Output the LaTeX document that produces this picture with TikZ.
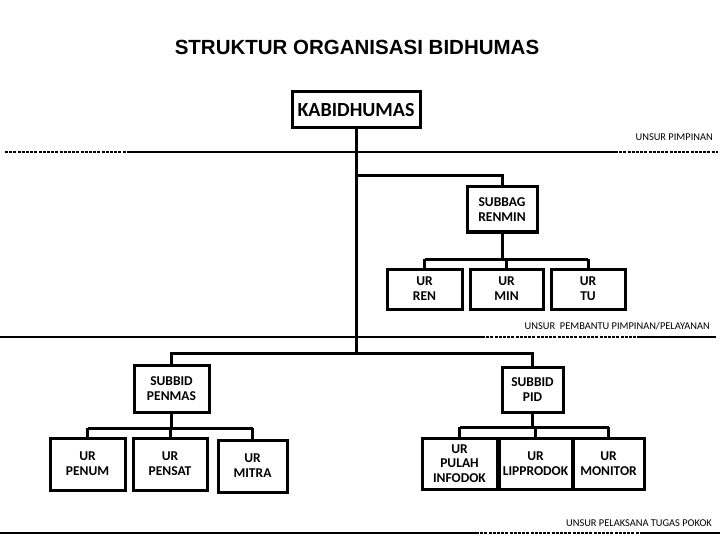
\documentclass[tikz,border=0pt]{standalone}
\usepackage{fontspec}
\newfontfamily\boxfont{Carlito}
\newfontfamily\titlefont{Liberation Sans}
\usetikzlibrary{positioning}

\begin{document}
\begin{tikzpicture}[x=1pt,y=-1pt]

  % --- styles ---
  \tikzset{
    % unit boxes: thick black frame, bold text
    unitbox/.style={
      draw=black,
      line width=3pt,
      fill=white,
      font=\boxfont\bfseries\fontsize{13.5}{14.8}\selectfont,
      align=center,
      inner sep=0pt
    },
    % connectors between boxes
    link/.style={line width=3pt},
    % divider lines between levels
    divsolid/.style={line width=2.2pt},
    divdash/.style={line width=1.4pt, dash pattern=on 3pt off 1.2pt},
    divlabel/.style={anchor=east, inner sep=0pt, font=\boxfont\fontsize{10.4}{12}\selectfont}
  }

  \useasboundingbox (0,0) rectangle (720,540);

  % --- title ---
  \node[font=\titlefont\bfseries\fontsize{20.5}{24}\selectfont] (title) at (357,47) {STRUKTUR ORGANISASI BIDHUMAS};

  % --- dividers ---
  \draw[divdash] (5,152) -- (130,152);
  \draw[divsolid] (130,152) -- (615,152);
  \draw[divdash] (615,152) -- (718,152);
  \node[divlabel] (lblpimpinan) at (713,137) {UNSUR PIMPINAN};

  \draw[divsolid] (0,337) -- (482,337);
  \draw[divdash] (482,337) -- (640,337);
  \draw[divsolid] (640,337) -- (716,337);
  \node[divlabel] (lblpembantu) at (710,326) {UNSUR\ \ PEMBANTU PIMPINAN/PELAYANAN};

  \draw[divsolid] (0,533) -- (476,533);
  \draw[divdash] (476,533) -- (640,533);
  \draw[divsolid] (640,533) -- (720,533);
  \node[divlabel] (lblpelaksana) at (712,523) {UNSUR PELAKSANA TUGAS POKOK};

  % --- pimpinan ---
  \node[unitbox, minimum width=128, minimum height=36, font=\boxfont\bfseries\fontsize{20}{22}\selectfont] (kabid) at (356,110) {KABIDHUMAS};

  % --- subbag renmin and its urusan ---
  \node[unitbox, minimum width=70, minimum height=45] (renmin) at (502,209.5) {SUBBAG\\RENMIN};
  \node[unitbox, minimum width=75, minimum height=40] (ren) at (424.5,289) {UR\\REN};
  \node[unitbox, minimum width=73, minimum height=40, right=5pt of ren] (min) {UR\\MIN};
  \node[unitbox, minimum width=74, minimum height=40, right=5pt of min] (tu) {UR\\TU};

  % --- subbid penmas ---
  \node[unitbox, minimum width=75, minimum height=47] (penmas) at (171.5,388.5) {SUBBID\\PENMAS};
  \node[unitbox, minimum width=75, minimum height=52] (penum) at (87.5,464) {UR\\PENUM};
  \node[unitbox, minimum width=74, minimum height=52] (pensat) at (170,464) {UR\\PENSAT};
  \node[unitbox, minimum width=69, minimum height=52] (mitra) at (252.5,466) {UR\\MITRA};

  % --- subbid pid ---
  \node[unitbox, minimum width=61, minimum height=45] (pid) at (532.5,389.5) {SUBBID\\PID};
  \node[unitbox, minimum width=75, minimum height=51] (pulah) at (459.5,463.5) {UR\\PULAH\\INFODOK};
  \node[unitbox, minimum width=73, minimum height=51] (lipprodok) at (535.5,463.5) {UR\\LIPPRODOK};
  \node[unitbox, minimum width=71, minimum height=51] (monitor) at (608.5,463.5) {UR\\MONITOR};

  % --- connectors ---
  \coordinate (renminjoin) at (356,176);
  \coordinate (hub) at (356,353);
  \coordinate (busrenmin) at (0,259);
  \coordinate (buspenmas) at (0,428);
  \coordinate (buspid) at (0,427);

  \draw[link] (kabid.south) -- (hub);
  \draw[link] (renminjoin) -| (renmin.north);
  \draw[link] (penmas.north) |- (hub) -| (pid.north);

  \draw[link] (renmin.south) -- (renmin.south |- busrenmin);
  \draw[link] (ren.north |- busrenmin) -- (tu.north |- busrenmin);
  \foreach \u in {ren,min,tu}
    \draw[link] (\u.north |- busrenmin) -- (\u.north);

  \draw[link] (penmas.south) -- (penmas.south |- buspenmas);
  \draw[link] (penum.north |- buspenmas) -- (mitra.north |- buspenmas);
  \foreach \u in {penum,pensat,mitra}
    \draw[link] (\u.north |- buspenmas) -- (\u.north);

  \draw[link] (pid.south) -- (pid.south |- buspid);
  \draw[link] (pulah.north |- buspid) -- (monitor.north |- buspid);
  \foreach \u in {pulah,lipprodok,monitor}
    \draw[link] (\u.north |- buspid) -- (\u.north);

\end{tikzpicture}
\end{document}
